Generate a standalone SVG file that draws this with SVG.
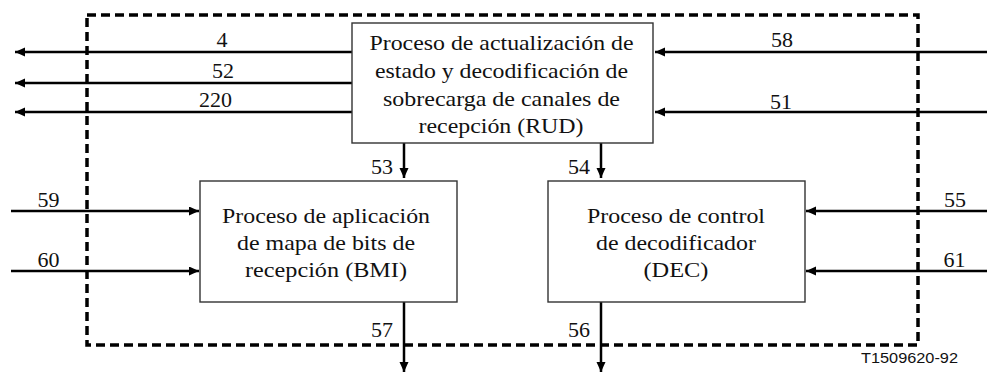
<svg xmlns="http://www.w3.org/2000/svg" width="987" height="374" viewBox="0 0 987 374">
<style>
.box{fill:#fff;stroke:#333;stroke-width:1.4}
.t{font-family:'Liberation Serif','Times New Roman',serif;font-size:21px;fill:#111;text-anchor:middle}
.n{font-family:'Liberation Serif','Times New Roman',serif;font-size:22px;fill:#111;text-anchor:middle}
.ne{text-anchor:end}
.c{fill:none;stroke:#000;stroke-width:2.5;marker-end:url(#ah)}
.frame{fill:none;stroke:#000;stroke-width:3.5;stroke-dasharray:9 5}
.id{font-family:'Liberation Sans',Arial,sans-serif;font-size:15px;fill:#111}
</style>
<defs>
<marker id="ah" markerUnits="userSpaceOnUse" markerWidth="11" markerHeight="10" refX="10" refY="4.5" orient="auto" viewBox="0 0 11 10">
<path d="M0,0 L10,4.5 L0,9 z" fill="#000"/>
</marker>
</defs>
<rect class="frame" x="87" y="15" width="831" height="330"/>
<g id="connectors">
<line class="c" x1="352" y1="52" x2="15" y2="52"/>
<line class="c" x1="352" y1="83" x2="15" y2="83"/>
<line class="c" x1="352" y1="112" x2="15" y2="112"/>
<line class="c" x1="987" y1="52" x2="655" y2="52"/>
<line class="c" x1="987" y1="112" x2="655" y2="112"/>
<line class="c" x1="404" y1="143" x2="404" y2="178"/>
<line class="c" x1="601" y1="143" x2="601" y2="178"/>
<line class="c" x1="11" y1="211" x2="199" y2="211"/>
<line class="c" x1="11" y1="271" x2="199" y2="271"/>
<line class="c" x1="987" y1="211" x2="806" y2="211"/>
<line class="c" x1="987" y1="271" x2="806" y2="271"/>
<line class="c" x1="404" y1="302" x2="404" y2="372"/>
<line class="c" x1="601" y1="302" x2="601" y2="372"/>
<text class="n" x="222" y="47">4</text>
<text class="n" x="223" y="78">52</text>
<text class="n" x="215.5" y="107">220</text>
<text class="n" x="782" y="47">58</text>
<text class="n" x="781" y="108.5">51</text>
<text class="n ne" x="393" y="174">53</text>
<text class="n ne" x="590" y="174">54</text>
<text class="n" x="48.5" y="207">59</text>
<text class="n" x="48.5" y="267">60</text>
<text class="n" x="955" y="207">55</text>
<text class="n" x="954.5" y="267">61</text>
<text class="n ne" x="393" y="337">57</text>
<text class="n ne" x="590" y="337">56</text>
</g>
<g id="rud">
<rect class="box" x="352" y="23" width="301" height="120"/>
<text class="t" x="501.5" y="50" textLength="264" lengthAdjust="spacingAndGlyphs">Proceso de actualización de</text>
<text class="t" x="501.5" y="78" textLength="253" lengthAdjust="spacingAndGlyphs">estado y decodificación de</text>
<text class="t" x="501.5" y="105.5" textLength="237" lengthAdjust="spacingAndGlyphs">sobrecarga de canales de</text>
<text class="t" x="501" y="132.5" textLength="165" lengthAdjust="spacingAndGlyphs">recepción (RUD)</text>
</g>
<g id="bmi">
<rect class="box" x="200" y="181" width="257" height="121"/>
<text class="t" x="326" y="223" textLength="208" lengthAdjust="spacingAndGlyphs">Proceso de aplicación</text>
<text class="t" x="326" y="250" textLength="178" lengthAdjust="spacingAndGlyphs">de mapa de bits de</text>
<text class="t" x="326" y="277" textLength="162" lengthAdjust="spacingAndGlyphs">recepción (BMI)</text>
</g>
<g id="dec">
<rect class="box" x="548" y="181" width="257" height="121"/>
<text class="t" x="676" y="223" textLength="178" lengthAdjust="spacingAndGlyphs">Proceso de control</text>
<text class="t" x="676" y="250" textLength="160" lengthAdjust="spacingAndGlyphs">de decodificador</text>
<text class="t" x="676" y="277" textLength="65" lengthAdjust="spacingAndGlyphs">(DEC)</text>
</g>
<text class="id" x="861" y="363" textLength="97" lengthAdjust="spacingAndGlyphs">T1509620-92</text>
</svg>
